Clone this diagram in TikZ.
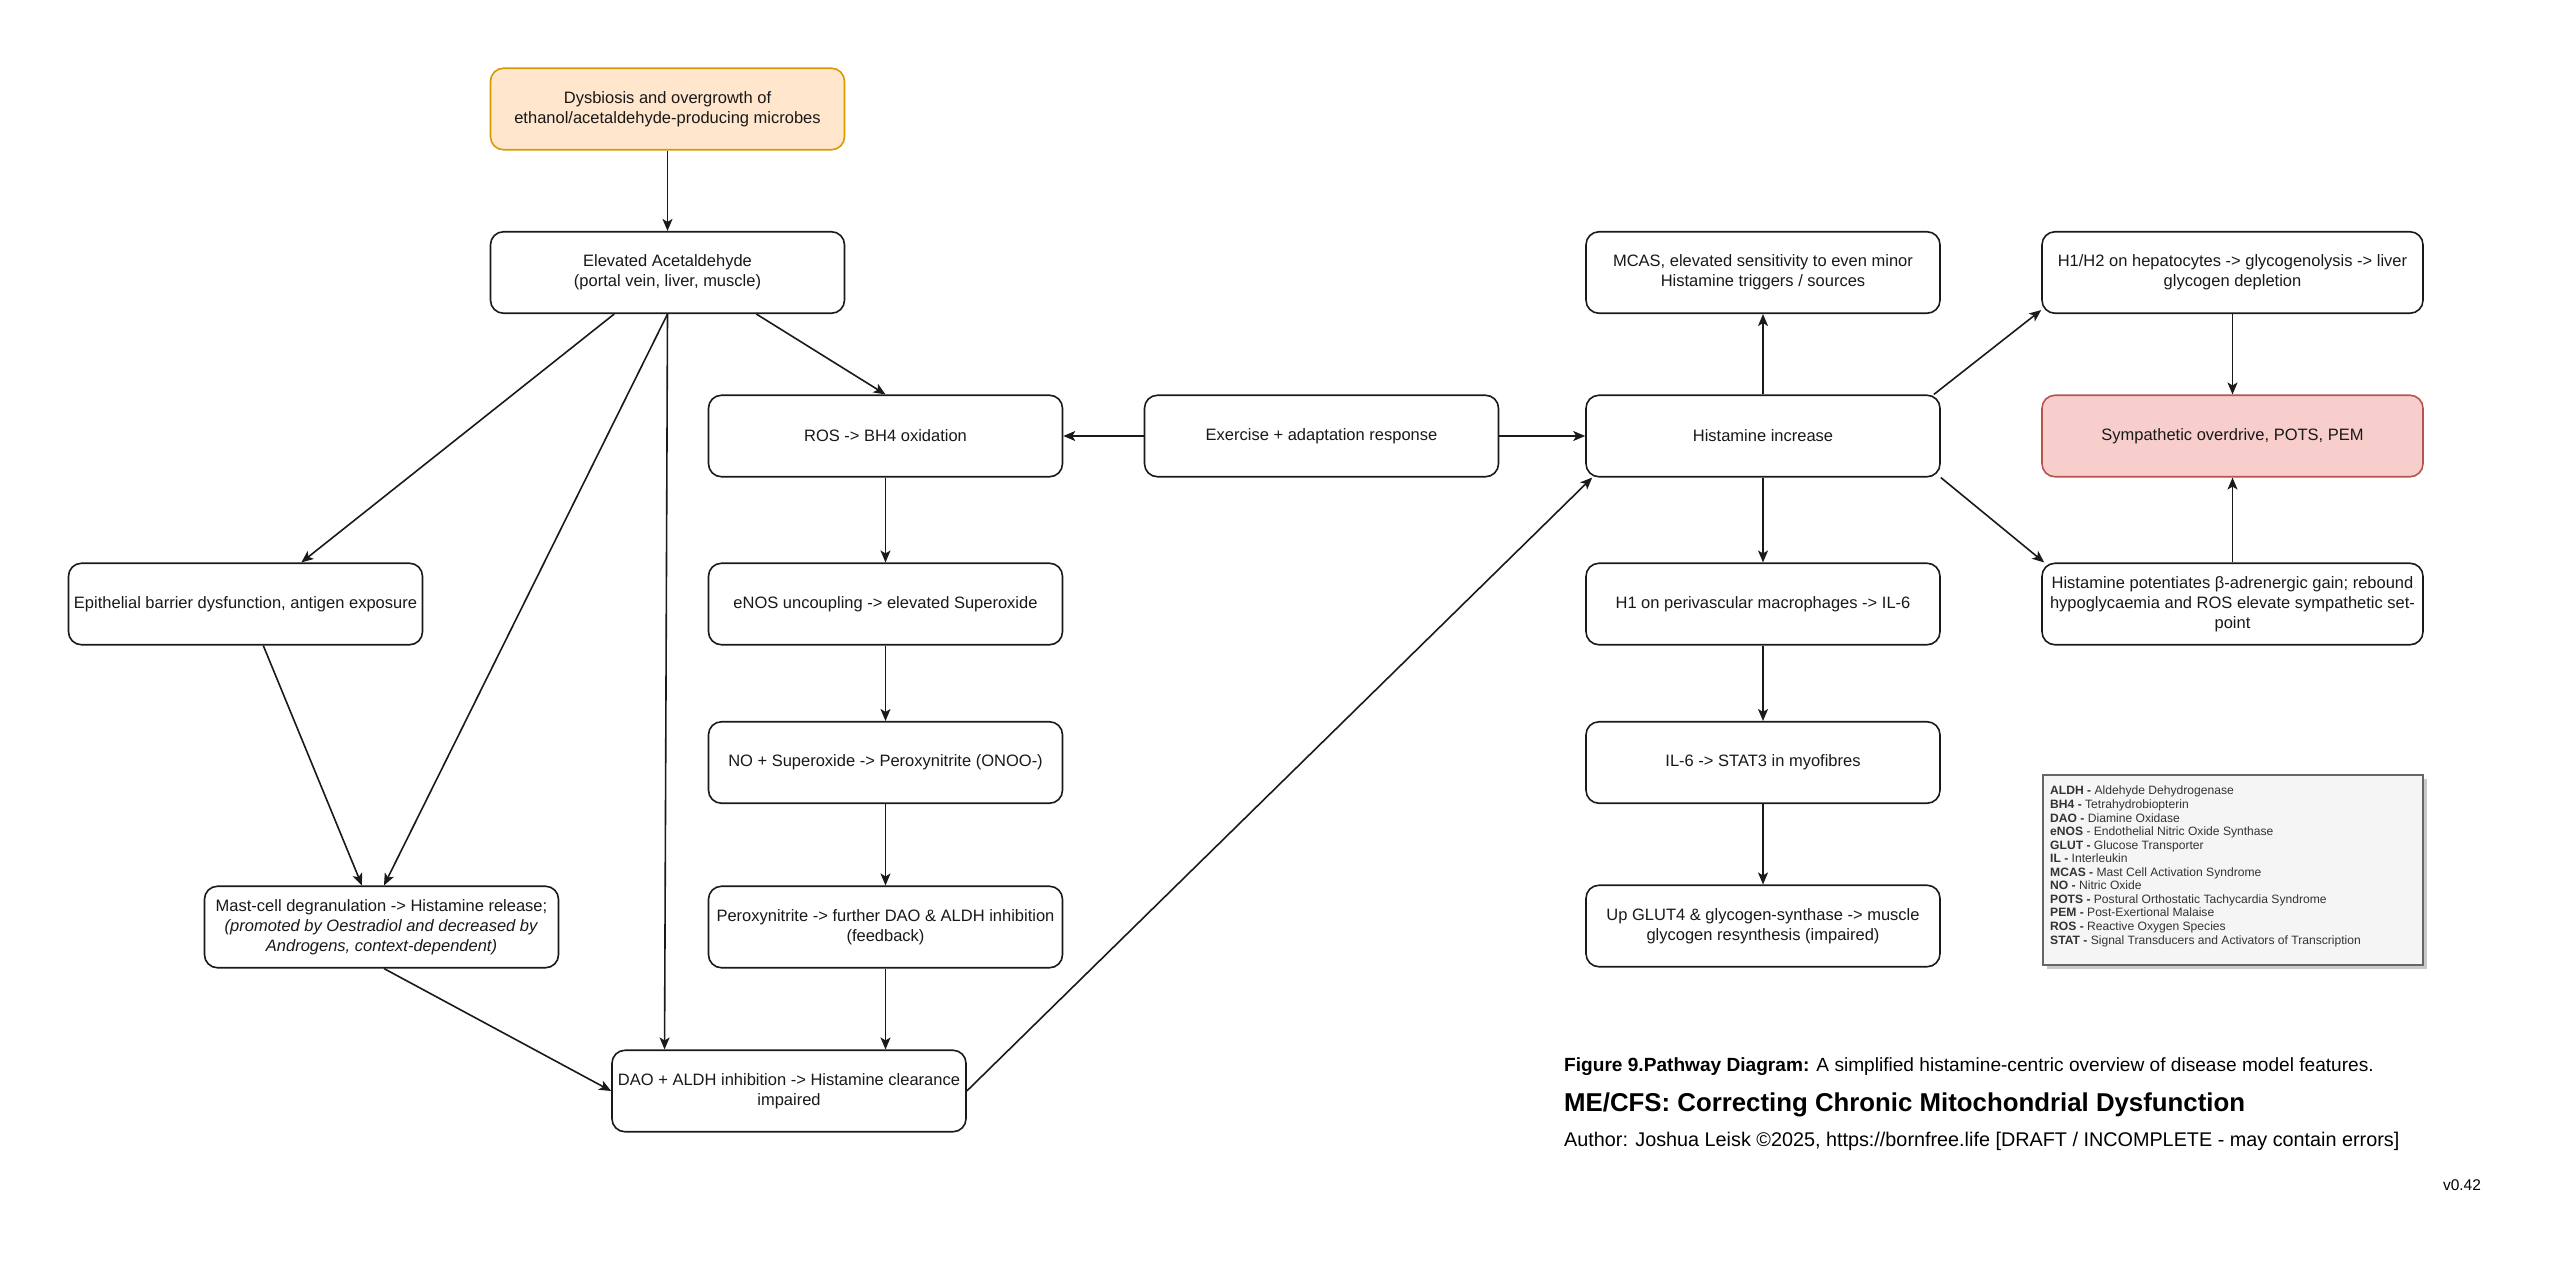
\documentclass[tikz,border=0pt]{standalone}
\usepackage{fontspec}
\setmainfont{Liberation Sans}
\usetikzlibrary{arrows.meta,calc,shadows}
\definecolor{orfill}{HTML}{FFE6CC}
\definecolor{ordraw}{HTML}{D79B00}
\definecolor{rdfill}{HTML}{F8CECC}
\definecolor{rddraw}{HTML}{B85450}
\definecolor{lgfill}{HTML}{F5F5F5}
\definecolor{lgdraw}{HTML}{666666}
\definecolor{lgtext}{HTML}{333333}
\definecolor{boxline}{HTML}{1A1A1A}
\newcommand{\nf}{\fontsize{16.5}{20}\selectfont}
\newcommand{\lgf}{\fontsize{12.1}{13.55}\selectfont}
\newcommand{\capf}{\fontsize{19.1}{22}\selectfont}
\newcommand{\autf}{\fontsize{19.8}{22}\selectfont}
\newcommand{\titf}{\fontsize{25.8}{30}\selectfont}
\newcommand{\verf}{\fontsize{15.5}{18}\selectfont}
\begin{document}
\begin{tikzpicture}[x=1pt,y=-1pt,
  box/.style={draw=boxline, line width=1.6pt, rounded corners=13pt, fill=white,
    minimum width=354pt, minimum height=81.5pt, align=center, font=\nf, inner sep=0pt, text=black!90},
  wide/.style={minimum width=381pt},
  arr/.style={-{Stealth[length=12pt,width=10pt,inset=3pt]}, line width=1.6pt, draw=boxline}]
\fill[white] (0,0) rectangle (2560,1267);
\useasboundingbox (0,0) rectangle (2560,1267);

% nodes
\node[box, draw=ordraw, fill=orfill] (dys) at (667.5,109) {Dysbiosis and overgrowth of\\ethanol/acetaldehyde-producing microbes};
\node[box] (ela) at (667.5,272.5) {Elevated Acetaldehyde\\(portal vein, liver, muscle)};
\node[box] (ros) at (885.5,436) {ROS -> BH4 oxidation};
\node[box] (exe) at (1321.5,436) {Exercise + adaptation response};
\node[box] (his) at (1763,436) {Histamine increase};
\node[box] (mcas) at (1763,272.5) {MCAS, elevated sensitivity to even minor\\Histamine triggers / sources};
\node[box, wide] (hep) at (2232.5,272.5) {H1/H2 on hepatocytes -> glycogenolysis -> liver\\glycogen depletion};
\node[box, wide, draw=rddraw, fill=rdfill] (sym) at (2232.5,436) {Sympathetic overdrive, POTS, PEM};
\node[box, wide] (pot) at (2232.5,604) {Histamine potentiates β-adrenergic gain; rebound\\hypoglycaemia and ROS elevate sympathetic set-\\point};
\node[box] (epi) at (245.5,604) {Epithelial barrier dysfunction, antigen exposure};
\node[box] (enos) at (885.5,604) {eNOS uncoupling -> elevated Superoxide};
\node[box] (h1) at (1763,604) {H1 on perivascular macrophages -> IL-6};
\node[box] (no) at (885.5,762.5) {NO + Superoxide -> Peroxynitrite (ONOO-)};
\node[box] (il6) at (1763,762.5) {IL-6 -> STAT3 in myofibres};
\node[box] (mast) at (381.5,927) {Mast-cell degranulation -> Histamine release;\\\textit{(promoted by Oestradiol and decreased by}\\\textit{Androgens, context-dependent)}};
\node[box] (per) at (885.5,927) {Peroxynitrite -> further DAO \& ALDH inhibition\\(feedback)};
\node[box] (glut) at (1763,926) {Up GLUT4 \& glycogen-synthase -> muscle\\glycogen resynthesis (impaired)};
\node[box] (dao) at (789,1091) {DAO + ALDH inhibition -> Histamine clearance\\impaired};

% legend
\node[draw=lgdraw, fill=lgfill, line width=1.6pt, minimum width=380pt, minimum height=190pt, inner sep=0pt,
  drop shadow={shadow xshift=4pt, shadow yshift=-4pt, fill=black!35, opacity=0.6}] (lgbox) at (2233,870) {};
\node[anchor=north west, align=left, inner sep=0pt, font=\lgf, text=lgtext] (leg) at (2050,786) {%
\textbf{ALDH -} Aldehyde Dehydrogenase\\
\textbf{BH4 -} Tetrahydrobiopterin\\
\textbf{DAO -} Diamine Oxidase\\
\textbf{eNOS} - Endothelial Nitric Oxide Synthase\\
\textbf{GLUT -} Glucose Transporter\\
\textbf{IL -} Interleukin\\
\textbf{MCAS -} Mast Cell Activation Syndrome\\
\textbf{NO -} Nitric Oxide\\
\textbf{POTS -} Postural Orthostatic Tachycardia Syndrome\\
\textbf{PEM -} Post-Exertional Malaise\\
\textbf{ROS -} Reactive Oxygen Species\\
\textbf{STAT -} Signal Transducers and Activators of Transcription};

% caption
\node[anchor=base west, inner sep=0pt, font=\capf] (fig) at (1564,1071) {\textbf{Figure 9.}\textbf{Pathway Diagram:} A simplified histamine-centric overview of disease model features.};
\node[anchor=base west, inner sep=0pt, font=\titf] (tit) at (1564,1111) {\textbf{ME/CFS: Correcting Chronic Mitochondrial Dysfunction}};
\node[anchor=base west, inner sep=0pt, font=\autf] (aut) at (1564,1146) {Author: Joshua Leisk ©2025, https://bornfree.life [DRAFT / INCOMPLETE - may contain errors]};
\node[inner sep=0pt, font=\verf] (ver) at (2462,1185) {v0.42};

% connectors
\draw[arr] (dys.south) -- (ela.north);
\draw[arr] ($(ela.south west)!0.35!(ela.south east)$) -- ($(epi.north west)!0.657!(epi.north east)$);
\draw[arr] (ela.south) -- ($(mast.north west)!0.507!(mast.north east)$);
\draw[arr] (ela.south) -- ($(dao.north west)!0.15!(dao.north east)$);
\draw[arr] ($(ela.south west)!0.75!(ela.south east)$) -- (ros.north);
\draw[arr] (exe.west) -- (ros.east);
\draw[arr] (exe.east) -- (his.west);
\draw[arr] (ros.south) -- (enos.north);
\draw[arr] (enos.south) -- (no.north);
\draw[arr] (no.south) -- (per.north);
\draw[arr] (per.south) -- (per.south |- dao.north);
\draw[arr] ($(epi.south west)!0.55!(epi.south east)$) -- ($(mast.north west)!0.445!(mast.north east)$);
\draw[arr] ($(mast.south west)!0.507!(mast.south east)$) -- (dao.west);
\draw[arr] (dao.east) -- ($(his.south west)+(7,0)$);
\draw[arr] (his.north) -- (mcas.south);
\draw[arr] ($(his.north east)+(-7,0)$) -- ($(hep.south west)+(0,-4)$);
\draw[arr] (his.south east) -- ($(pot.north west)+(3,0)$);
\draw[arr] (his.south) -- (h1.north);
\draw[arr] (h1.south) -- (il6.north);
\draw[arr] (il6.south) -- (glut.north);
\draw[arr] (hep.south) -- (sym.north);
\draw[arr] (pot.north) -- (sym.south);
\end{tikzpicture}
\end{document}
